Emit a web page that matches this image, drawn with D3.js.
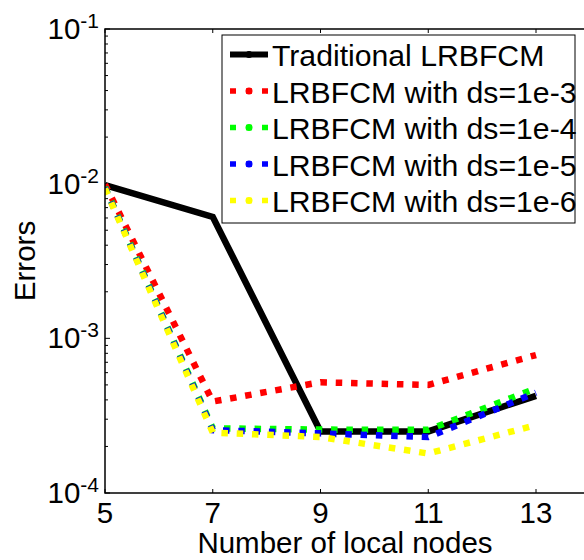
<!DOCTYPE html>
<html>
<head>
<meta charset="utf-8">
<script src="https://cdn.jsdelivr.net/npm/d3@7"></script>
<style>
  body { margin: 0; background: #fff; }
  text { font-family: "Liberation Sans", Arial, Helvetica, sans-serif; fill: #000; }
</style>
</head>
<body>
<div id="chart"></div>
<script>
'use strict'
// data
var nodes = [5, 7, 9, 11, 13]
var traditional = [9.8e-3, 6.1e-3, 2.5e-4, 2.5e-4, 4.25e-4]
var ds1e3 = [9.9e-3, 3.9e-4, 5.2e-4, 5.0e-4, 7.8e-4]
var ds1e4 = [9.5e-3, 2.62e-4, 2.57e-4, 2.56e-4, 4.75e-4]
var ds1e5 = [9.4e-3, 2.55e-4, 2.43e-4, 2.3e-4, 4.45e-4]
var ds1e6 = [9.3e-3, 2.46e-4, 2.3e-4, 1.8e-4, 2.75e-4]
var seriesNames = [
  'Traditional LRBFCM',
  'LRBFCM with ds=1e-3',
  'LRBFCM with ds=1e-4',
  'LRBFCM with ds=1e-5',
  'LRBFCM with ds=1e-6'
]
var colors = ['#000000', '#ff0000', '#00ff00', '#0000ff', '#ffff00']
var xTicks = [5, 7, 9, 11, 13, 15]
var xTickLabels = [5, 7, 9, 11, 13]
var yDecades = [-4, -3, -2, -1]

var series = [traditional, ds1e3, ds1e4, ds1e5, ds1e6].map((vals, i) => ({
  name: seriesNames[i],
  color: colors[i],
  dotted: i > 0,
  values: vals.map((v, j) => ({x: nodes[j], y: v}))
}))

var W = 584, H = 560
var pLeft = 105, pTop = 29, pBottom = 493
var x = d3.scaleLinear().domain([5, 15]).range([pLeft, pLeft + 10 * 53.875])
var y = d3.scaleLog().domain([1e-4, 1e-1]).range([pBottom, pTop])
var pRight = x(15)

var svg = d3.select('#chart').append('svg')
  .attr('width', W)
  .attr('height', H)

svg.append('defs').append('clipPath').attr('id', 'plotclip')
  .append('rect')
  .attr('x', pLeft).attr('y', pTop)
  .attr('width', pRight - pLeft).attr('height', pBottom - pTop)

// minor + major y ticks (log), inward
var yMinor = []
for (let d = -4; d < -1; d++) {
  for (let k = 2; k <= 9; k++) yMinor.push(k * Math.pow(10, d))
}
var tickG = svg.append('g').attr('stroke', '#000').attr('stroke-width', 1)
tickG.selectAll('.ymin').data(yMinor).enter().append('line')
  .attr('x1', pLeft).attr('x2', pLeft + 3)
  .attr('y1', d => y(d)).attr('y2', d => y(d))
tickG.selectAll('.ymaj').data(yDecades).enter().append('line')
  .attr('x1', pLeft).attr('x2', pLeft + 5)
  .attr('y1', d => y(Math.pow(10, d))).attr('y2', d => y(Math.pow(10, d)))
tickG.selectAll('.xb').data(xTicks).enter().append('line')
  .attr('x1', d => x(d)).attr('x2', d => x(d))
  .attr('y1', pBottom).attr('y2', pBottom - 4)
tickG.selectAll('.xt').data(xTicks).enter().append('line')
  .attr('x1', d => x(d)).attr('x2', d => x(d))
  .attr('y1', pTop).attr('y2', pTop + 4)

// x tick labels (15 falls outside the picture)
svg.selectAll('.xlab').data(xTickLabels).enter().append('text')
  .attr('x', d => x(d))
  .attr('y', 523)
  .attr('text-anchor', 'middle')
  .style('font-size', '29.5px')
  .text(d => d)

// y tick labels 10^n
var ylab = svg.selectAll('.ylab').data(yDecades).enter().append('text')
  .attr('x', 99)
  .attr('y', d => y(Math.pow(10, d)) + 10)
  .attr('text-anchor', 'end')
  .style('font-size', '29.5px')
ylab.append('tspan').text('10')
ylab.append('tspan')
  .attr('dy', -11)
  .style('font-size', '21px')
  .text(d => '' + d)

// axis labels
svg.append('text')
  .attr('x', 345)
  .attr('y', 553)
  .attr('text-anchor', 'middle')
  .style('font-size', '29.5px')
  .text('Number of local nodes')
svg.append('text')
  .attr('transform', 'translate(35,' + ((pTop + pBottom) / 2) + ') rotate(-90)')
  .attr('text-anchor', 'middle')
  .style('font-size', '29.5px')
  .text('Errors')

// lines
var line = d3.line().x(d => x(d.x)).y(d => y(d.y))
var plot = svg.append('g').attr('clip-path', 'url(#plotclip)')
series.forEach(s => {
  plot.append('path')
    .attr('d', line(s.values))
    .attr('fill', 'none')
    .attr('stroke', s.color)
    .attr('stroke-width', s.dotted ? 6.5 : 6.5)
    .attr('stroke-dasharray', s.dotted ? '6.5,8.8' : null)
    .attr('stroke-linejoin', 'miter')
})

// box
svg.append('rect')
  .attr('x', pLeft).attr('y', pTop)
  .attr('width', pRight - pLeft).attr('height', pBottom - pTop)
  .attr('fill', 'none')
  .attr('stroke', '#000')
  .attr('stroke-width', 1.5)

// legend
var lg = svg.append('g')
lg.append('rect')
  .attr('x', 222).attr('y', 35)
  .attr('width', 353).attr('height', 188)
  .attr('fill', '#fff')
  .attr('stroke', '#000')
  .attr('stroke-width', 1)
var rows = lg.selectAll('.row').data(series).enter().append('g')
  .attr('transform', (d, i) => 'translate(0,' + (66 + i * 36.5) + ')')
rows.append('line')
  .attr('x1', 230).attr('x2', 268)
  .attr('y1', -11.5).attr('y2', -11.5)
  .attr('stroke', d => d.color)
  .attr('stroke-width', d => d.dotted ? 5.5 : 6)
  .attr('stroke-dasharray', d => d.dotted ? '6,10' : null)
rows.append('circle')
  .attr('cx', 249).attr('cy', -11.5)
  .attr('r', 3.5)
  .attr('fill', d => d.color)
rows.append('text')
  .attr('x', 272)
  .attr('y', 0)
  .style('font-size', '30.2px')
  .text(d => d.name)
</script>
</body>
</html>
